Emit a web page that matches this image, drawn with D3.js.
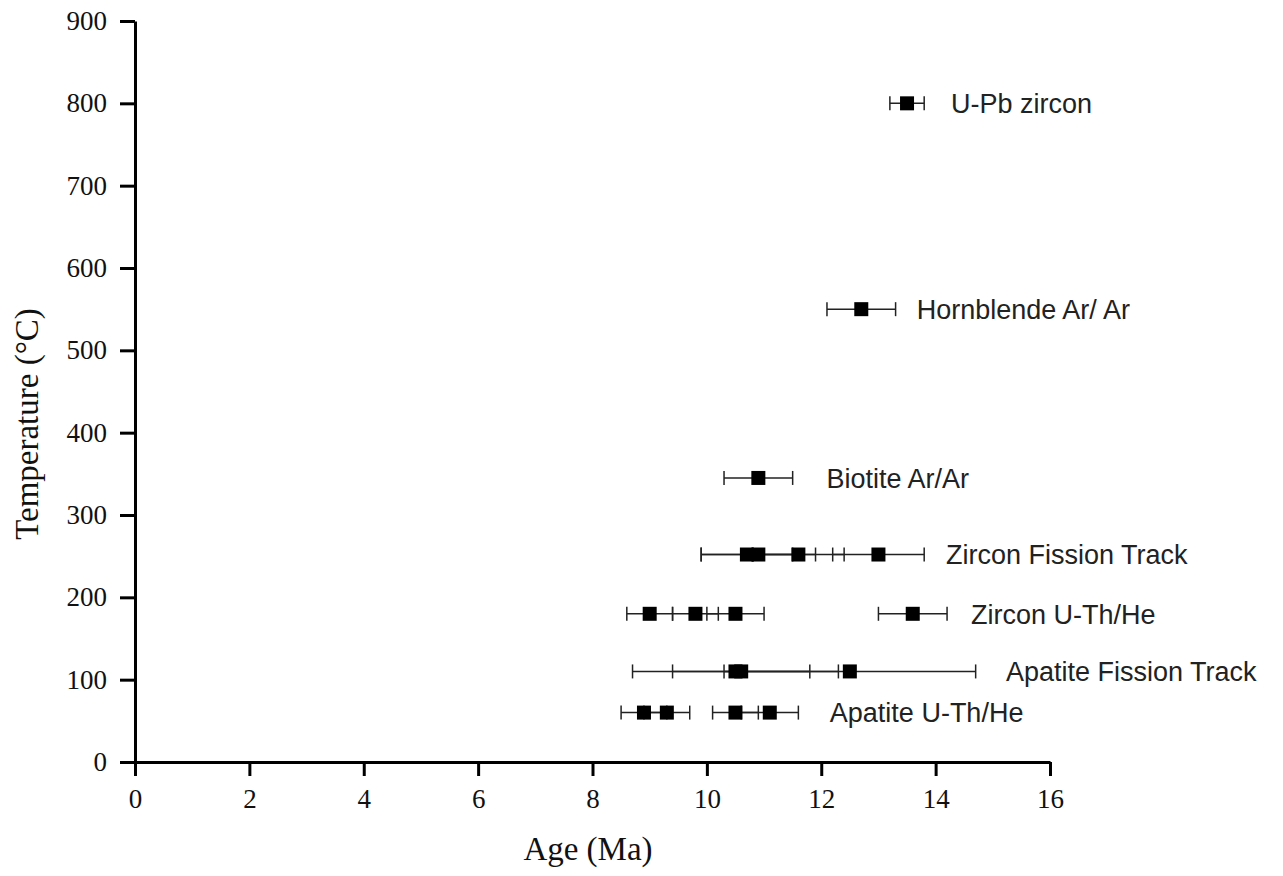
<!DOCTYPE html>
<html>
<head>
<meta charset="utf-8">
<script src="https://cdn.jsdelivr.net/npm/d3@7"></script>
<style>
  body { margin: 0; background: #fff; }
  .axis path, .axis line { stroke: #000; stroke-width: 3px; }
  .axis text { font-family: "Liberation Serif", "Times New Roman", serif; font-size: 27px; fill: #111; }
</style>
</head>
<body>
<div id="chart"></div>
<script>
// thermochronometers, closure temperature (°C), ages (Ma) and errors
const categories = ['U-Pb zircon', 'Hornblende Ar/ Ar', 'Biotite Ar/Ar', 'Zircon Fission Track',
  'Zircon U-Th/He', 'Apatite Fission Track', 'Apatite U-Th/He'];
const temps = [800, 550, 345, 252, 180, 110, 60];
const ages = [[13.5], [12.7], [10.9], [10.7, 10.9, 11.6, 13.0], [9.0, 9.8, 10.5, 13.6],
  [10.5, 10.6, 12.5], [8.9, 9.3, 10.5, 11.1]];
const errors = [[0.3], [0.6], [0.6], [0.8, 1.0, 0.8, 0.8], [0.4, 0.4, 0.5, 0.6],
  [1.8, 1.2, 2.2], [0.4, 0.4, 0.4, 0.5]];
// where each label starts, in Ma
const labelAge = [14.27, 13.67, 12.09, 14.18, 14.62, 15.23, 12.15];
const xTicks = [0, 2, 4, 6, 8, 10, 12, 14, 16];
const yTicks = [0, 100, 200, 300, 400, 500, 600, 700, 800, 900];

const width = 1283;
const height = 876;

const svg = d3.select('#chart').append('svg')
  .attr('width', width)
  .attr('height', height)
  .style('background', '#fff');

const x = d3.scaleLinear().domain([0, 16]).range([135, 1050]);
const y = d3.scaleLinear().domain([0, 900]).range([762, 21]);

// axes
svg.append('g')
  .attr('class', 'axis')
  .attr('transform', `translate(0,${y(0)})`)
  .call(d3.axisBottom(x).tickValues(xTicks).tickSize(14).tickSizeOuter(0).tickPadding(13).tickFormat(d3.format('d')));

svg.append('g')
  .attr('class', 'axis')
  .attr('transform', `translate(${x(0)},0)`)
  .call(d3.axisLeft(y).tickValues(yTicks).tickSize(15).tickSizeOuter(0).tickPadding(13).tickFormat(d3.format('d')));

// axis titles
svg.append('text')
  .attr('x', 588)
  .attr('y', 860)
  .attr('text-anchor', 'middle')
  .style('font-family', '"Liberation Serif", "Times New Roman", serif')
  .style('font-size', '33px')
  .style('fill', '#111')
  .text('Age (Ma)');

svg.append('text')
  .attr('transform', `translate(38,424) rotate(-90)`)
  .attr('text-anchor', 'middle')
  .style('font-family', '"Liberation Serif", "Times New Roman", serif')
  .style('font-size', '33px')
  .style('fill', '#111')
  .text('Temperature (°C)');

// flatten to points
const points = [];
categories.forEach((c, i) => {
  ages[i].forEach((a, j) => points.push({ cat: c, temp: temps[i], age: a, err: errors[i][j] }));
});

const marks = svg.append('g');
const capH = 7;
const sq = 14;

// error bars first, squares on top
const eb = marks.selectAll('g.eb').data(points).join('g').attr('class', 'eb')
  .attr('stroke', '#222').attr('stroke-width', 1.5);
eb.append('line')
  .attr('x1', d => x(d.age - d.err)).attr('x2', d => x(d.age + d.err))
  .attr('y1', d => y(d.temp)).attr('y2', d => y(d.temp));
eb.append('line')
  .attr('x1', d => x(d.age - d.err)).attr('x2', d => x(d.age - d.err))
  .attr('y1', d => y(d.temp) - capH).attr('y2', d => y(d.temp) + capH);
eb.append('line')
  .attr('x1', d => x(d.age + d.err)).attr('x2', d => x(d.age + d.err))
  .attr('y1', d => y(d.temp) - capH).attr('y2', d => y(d.temp) + capH);

marks.selectAll('rect').data(points).join('rect')
  .attr('x', d => x(d.age) - sq / 2)
  .attr('y', d => y(d.temp) - sq / 2)
  .attr('width', sq)
  .attr('height', sq)
  .attr('fill', '#000');

// category labels
svg.append('g').selectAll('text').data(categories).join('text')
  .attr('x', (d, i) => x(labelAge[i]))
  .attr('y', (d, i) => y(temps[i]))
  .attr('dy', '0.36em')
  .style('font-family', '"Liberation Sans", Arial, sans-serif')
  .style('font-size', '27px')
  .style('fill', '#222')
  .text(d => d);
</script>
</body>
</html>
